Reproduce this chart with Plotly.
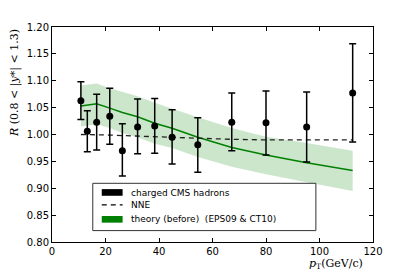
import plotly.graph_objects as go

# data
pt = [10.8, 13.2, 16.7, 21.6, 26.3, 32.0, 38.4, 44.9, 54.5, 67.2, 80.0, 95.2, 112.4]
r_cms = [1.063, 1.006, 1.023, 1.034, 0.970, 1.014, 1.016, 0.995, 0.981, 1.023, 1.022, 1.014, 1.077]
err_up = [1.098, 1.044, 1.075, 1.086, 1.020, 1.066, 1.067, 1.046, 1.031, 1.077, 1.081, 1.079, 1.169]
err_lo = [1.028, 0.968, 0.971, 0.982, 0.923, 0.964, 0.965, 0.945, 0.930, 0.970, 0.962, 0.949, 0.986]
nne = [1.000, 1.000, 0.999, 0.999, 0.998, 0.997, 0.996, 0.995, 0.993, 0.991, 0.990, 0.990, 0.990]
theory = [1.053, 1.055, 1.057, 1.049, 1.041, 1.033, 1.021, 1.0115, 0.995, 0.976, 0.962, 0.9475, 0.933]
theory_up = [1.091, 1.093, 1.095, 1.086, 1.079, 1.071, 1.059, 1.048, 1.032, 1.012, 0.996, 0.984, 0.970]
theory_lo = [1.015, 1.017, 1.019, 1.012, 1.003, 0.995, 0.983, 0.975, 0.958, 0.940, 0.926, 0.911, 0.895]

x_ticks = [0, 20, 40, 60, 80, 100, 120]
y_ticks = [0.80, 0.85, 0.90, 0.95, 1.00, 1.05, 1.10, 1.15, 1.20]

legend_labels = ["charged CMS hadrons", "NNE", "theory (before)  (EPS09 & CT10)"]

GREEN = "#008000"

fig = go.Figure()

# theory band
fig.add_trace(go.Scatter(x=pt, y=theory_lo, mode="lines", line=dict(width=0),
                         showlegend=False, hoverinfo="skip"))
fig.add_trace(go.Scatter(x=pt, y=theory_up, mode="lines", line=dict(width=0),
                         fill="tonexty", fillcolor="rgba(0,128,0,0.2)",
                         showlegend=False, hoverinfo="skip"))
fig.add_trace(go.Scatter(x=pt, y=theory, mode="lines",
                         line=dict(color=GREEN, width=1.5), showlegend=False))
# NNE
fig.add_trace(go.Scatter(x=pt, y=nne, mode="lines",
                         line=dict(color="#222222", width=1.3, dash="5px,4px"),
                         showlegend=False))
# data
fig.add_trace(go.Scatter(
    x=pt, y=r_cms, mode="markers",
    marker=dict(color="black", size=7),
    error_y=dict(type="data", symmetric=False,
                 array=[u - v for u, v in zip(err_up, r_cms)],
                 arrayminus=[v - l for v, l in zip(r_cms, err_lo)],
                 color="black", thickness=1.5, width=3.5),
    showlegend=False))

axis_common = dict(showline=True, linecolor="black", linewidth=1, mirror="allticks",
                   ticks="inside", ticklen=4, tickcolor="black", tickwidth=1,
                   showgrid=False, zeroline=False,
                   tickfont=dict(family="DejaVu Sans", size=10, color="black"))

fig.update_xaxes(range=[0, 120], tickvals=x_ticks,
                 ticktext=[str(v) for v in x_ticks], **axis_common)
fig.update_yaxes(range=[0.80, 1.20], tickvals=y_ticks,
                 ticktext=[f"{v:.2f}" for v in y_ticks], **axis_common)

# manual legend (paper coords)
shapes = [
    dict(type="rect", xref="paper", yref="paper", x0=0.127, x1=0.822, y0=0.053, y1=0.273,
         line=dict(color="#333333", width=1), fillcolor="white"),
    dict(type="rect", xref="paper", yref="paper", x0=0.155, x1=0.220, y0=0.215, y1=0.246,
         line=dict(width=0), fillcolor="black"),
    dict(type="line", xref="paper", yref="paper", x0=0.155, x1=0.220, y0=0.173, y1=0.173,
         line=dict(color="black", width=1.3, dash="5px,4px")),
    dict(type="rect", xref="paper", yref="paper", x0=0.155, x1=0.220, y0=0.090, y1=0.121,
         line=dict(width=0), fillcolor=GREEN),
]
annotations = []
for lab, yy in zip(legend_labels, [0.229, 0.172, 0.105]):
    annotations.append(dict(text=lab, xref="paper", yref="paper", x=0.241, y=yy,
                            xanchor="left", yanchor="middle", showarrow=False,
                            font=dict(family="DejaVu Sans", size=9, color="black")))

annotations.append(dict(text="<i>R</i> (0.8 &lt; |<i>y</i>*| &lt; 1.3)", xref="paper", yref="paper",
                        x=-0.115, y=0.74, textangle=-90, xanchor="center", yanchor="middle",
                        showarrow=False,
                        font=dict(family="DejaVu Serif", size=11, color="black")))
annotations.append(dict(text="<i>p</i><sub>T</sub>(GeV/c)", xref="paper", yref="paper",
                        x=0.885, y=-0.10, xanchor="center", yanchor="middle",
                        showarrow=False,
                        font=dict(family="DejaVu Serif", size=11, color="black")))

# page body adds an 8px margin; reduce figure margins/size to compensate
fig.update_layout(width=407, height=269, margin=dict(l=44, r=42, t=19, b=35),
                  paper_bgcolor="white", plot_bgcolor="white",
                  shapes=shapes, annotations=annotations, showlegend=False)

fig.write_html("out.html")
